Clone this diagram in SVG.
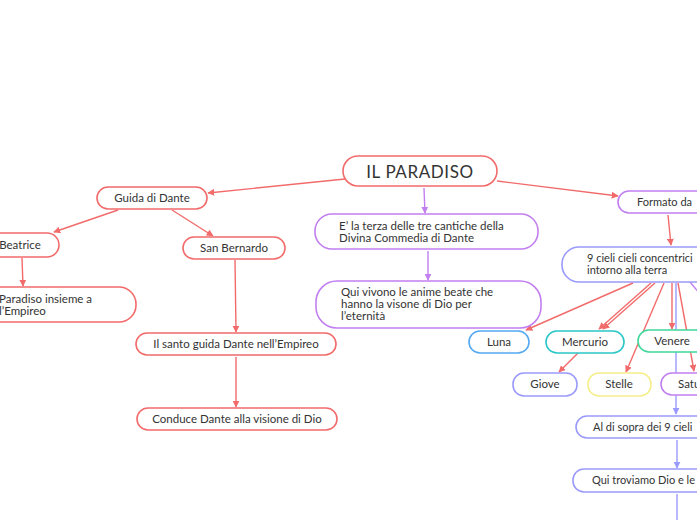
<svg xmlns="http://www.w3.org/2000/svg" width="697" height="520" viewBox="0 0 697 520">
<defs>
<style>
text{font-family:"Lato","Noto Sans",sans-serif;font-size:11.5px;fill:#333}
.c{text-anchor:middle}
.s{font-size:11px}
.n rect{fill:#fff;stroke-width:1.6}
.red rect{stroke:#f26b6b}
.pur rect{stroke:#c27ff0}
.blu rect{stroke:#9a9afc}
.lr{stroke:#f26b6b;stroke-width:1.4;fill:none}
.lp{stroke:#c27ff0;stroke-width:1.4;fill:none}
.lb{stroke:#9a9afc;stroke-width:1.4;fill:none}
</style>
<marker id="ar" viewBox="0 0 10 10" refX="9" refY="5" markerWidth="7" markerHeight="7" markerUnits="userSpaceOnUse" orient="auto"><path d="M0,0L10,5L0,10z" fill="#f26b6b"/></marker>
<marker id="ap" viewBox="0 0 10 10" refX="9" refY="5" markerWidth="7" markerHeight="7" markerUnits="userSpaceOnUse" orient="auto"><path d="M0,0L10,5L0,10z" fill="#c27ff0"/></marker>
<marker id="ab" viewBox="0 0 10 10" refX="9" refY="5" markerWidth="7" markerHeight="7" markerUnits="userSpaceOnUse" orient="auto"><path d="M0,0L10,5L0,10z" fill="#9a9afc"/></marker>
</defs>
<rect width="697" height="520" fill="#fff"/>
<g id="connectors">
<line class="lr" x1="345" y1="179" x2="208" y2="193" marker-end="url(#ar)"/>
<line class="lr" x1="118" y1="210" x2="54" y2="232" marker-end="url(#ar)"/>
<line class="lr" x1="172" y1="210" x2="213" y2="236" marker-end="url(#ar)"/>
<line class="lr" x1="22" y1="258" x2="23" y2="286" marker-end="url(#ar)"/>
<line class="lr" x1="235" y1="260" x2="236" y2="332" marker-end="url(#ar)"/>
<line class="lr" x1="236" y1="357" x2="236" y2="407" marker-end="url(#ar)"/>
<line class="lp" x1="424" y1="188" x2="425" y2="213" marker-end="url(#ap)"/>
<line class="lp" x1="428" y1="251" x2="428" y2="280" marker-end="url(#ap)"/>
<line class="lr" x1="497" y1="181" x2="618" y2="196" marker-end="url(#ar)"/>
<line class="lr" x1="668" y1="215" x2="671" y2="245" marker-end="url(#ar)"/>
<line class="lb" x1="676" y1="283" x2="676" y2="414" marker-end="url(#ab)"/>
<line class="lr" x1="633" y1="283" x2="526" y2="330" marker-end="url(#ar)"/>
<line class="lr" x1="651" y1="283" x2="599" y2="329" marker-end="url(#ar)"/>
<line class="lr" x1="655" y1="283" x2="603" y2="329" marker-end="url(#ar)"/>
<line class="lr" x1="664" y1="283" x2="626" y2="372" marker-end="url(#ar)"/>
<line class="lr" x1="672" y1="283" x2="672" y2="329" marker-end="url(#ar)"/>
<line class="lr" x1="678" y1="283" x2="694" y2="371" marker-end="url(#ar)"/>
<line class="lp" x1="690" y1="282" x2="700" y2="294"/>
<line class="lr" x1="578" y1="353" x2="559" y2="372" marker-end="url(#ar)"/>
<line class="lb" x1="677" y1="440" x2="677" y2="468" marker-end="url(#ab)"/>
<line class="lb" x1="677" y1="494" x2="677" y2="522"/>
</g>
<g id="n-paradiso" class="n red"><rect x="343" y="156" width="154" height="30" rx="15"/><text class="c" x="420" y="178" style="font-size:17px;letter-spacing:0.6px">IL PARADISO</text></g>
<g id="n-guida" class="n red"><rect x="97" y="187" width="110" height="22" rx="11"/><text class="c" x="152" y="202">Guida di Dante</text></g>
<g id="n-beatrice" class="n red"><rect x="-19" y="233" width="78" height="24" rx="12"/><text class="c" x="20" y="249">Beatrice</text></g>
<g id="n-paradiso-emp" class="n red"><rect x="-45" y="287" width="181" height="35" rx="17"/><text x="-1" y="303">Paradiso insieme a</text><text x="-1" y="315">l’Empireo</text></g>
<g id="n-bernardo" class="n red"><rect x="183" y="237" width="102" height="22" rx="11"/><text class="c" x="234" y="252">San Bernardo</text></g>
<g id="n-santo" class="n red"><rect x="136" y="333" width="200" height="22" rx="11"/><text class="c" x="236" y="348">Il santo guida Dante nell’Empireo</text></g>
<g id="n-conduce" class="n red"><rect x="137" y="408" width="200" height="22" rx="11"/><text class="c" x="237" y="423">Conduce Dante alla visione di Dio</text></g>
<g id="n-terza" class="n pur"><rect x="315" y="214" width="223" height="35" rx="17"/><text x="339" y="230">E’ la terza delle tre cantiche della</text><text x="339" y="242">Divina Commedia di Dante</text></g>
<g id="n-vivono" class="n pur"><rect x="316" y="281" width="225" height="47" rx="21"/><text x="341" y="296">Qui vivono le anime beate  che</text><text x="341" y="308">hanno la visone di Dio per</text><text x="341" y="320">l’eternità</text></g>
<g id="n-formato" class="n pur"><rect x="618" y="191" width="94" height="22" rx="11"/><text class="s" x="637" y="206">Formato da</text></g>
<g id="n-cieli" class="n blu"><rect x="562" y="247" width="160" height="35" rx="17"/><text class="s" x="587" y="262">9 cieli cieli concentrici</text><text class="s" x="587" y="274">intorno alla terra</text></g>
<g id="n-luna" class="n"><rect x="469" y="331" width="60" height="22" rx="11" stroke="#55a8f2"/><text class="c" x="499" y="346">Luna</text></g>
<g id="n-mercurio" class="n"><rect x="546" y="331" width="78" height="22" rx="11" stroke="#2ac6c8"/><text class="c" x="585" y="346">Mercurio</text></g>
<g id="n-venere" class="n"><rect x="638" y="330" width="68" height="22" rx="11" stroke="#3fd89a"/><text class="c" x="672" y="345">Venere</text></g>
<g id="n-giove" class="n blu"><rect x="513" y="373" width="64" height="23" rx="11"/><text class="c" x="545" y="388">Giove</text></g>
<g id="n-stelle" class="n"><rect x="588" y="373" width="63" height="23" rx="11" stroke="#f5ee8a"/><text class="c" x="619" y="388">Stelle</text></g>
<g id="n-saturno" class="n pur"><rect x="661" y="373" width="80" height="22" rx="11"/><text x="678" y="388">Saturno</text></g>
<g id="n-sopra" class="n blu"><rect x="576" y="416" width="160" height="22" rx="11"/><text class="s" x="593" y="431">Al di sopra dei 9 cieli</text></g>
<g id="n-troviamo" class="n blu"><rect x="573" y="469" width="170" height="23" rx="11"/><text class="s" x="592" y="484">Qui troviamo Dio e le</text></g>
</svg>
